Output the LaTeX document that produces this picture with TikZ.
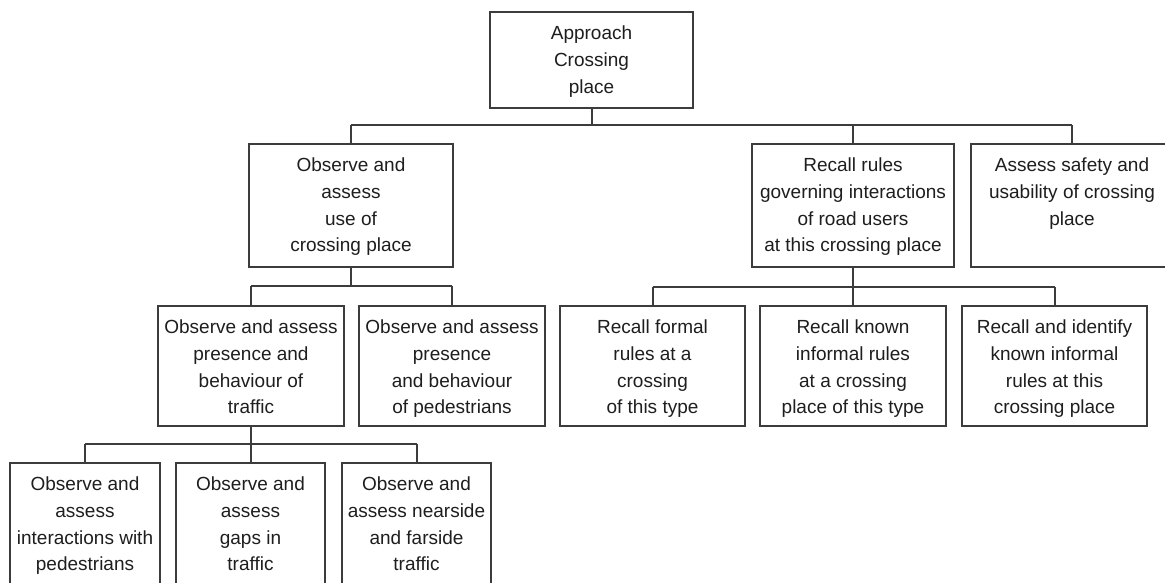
\documentclass[tikz,border=0pt]{standalone}
\usepackage{fontspec}
\setmainfont{Liberation Sans}

% a box of fixed size with its lines set from the top
\newcommand\celltext[3]{%
  \begin{minipage}[t][#2][t]{#1}\centering
  \vspace*{14pt}#3\end{minipage}}

\definecolor{linegray}{HTML}{3C3C3C}
\definecolor{inkgray}{HTML}{1E1E1E}

\tikzset{
  taskbox/.style={draw=linegray, line width=2pt, inner sep=0pt, outer sep=0pt,
    anchor=north west, text=inkgray,
    font=\fontsize{19}{26.7}\selectfont},
  link/.style={draw=linegray, line width=2pt}
}

\begin{document}
\begin{tikzpicture}[x=1pt, y=-1pt]
\useasboundingbox (0,0) rectangle (1165,582);
\clip (0,0) rectangle (1165,582);
\fill[white] (0,0) rectangle (1165,582);

% level 0
\node[taskbox] (top) at (490,12) {\celltext{203pt}{96pt}{Approach\\Crossing\\place}};

% level 1
\node[taskbox] (obs) at (249,144) {\celltext{204pt}{123pt}{Observe and\\assess\\use of\\crossing place}};
\node[taskbox] (rules) at (752,144) {\celltext{202pt}{123pt}{Recall rules\\governing interactions\\of road users\\at this crossing place}};
\node[taskbox] (safety) at (971,144) {\celltext{202pt}{123pt}{Assess safety and\\usability of crossing\\place}};

% level 2
\node[taskbox] (traffic) at (158,306) {\celltext{186pt}{120pt}{Observe and assess\\presence and\\behaviour of\\traffic}};
\node[taskbox] (peds) at (359,306) {\celltext{186pt}{120pt}{Observe and assess\\presence\\and behaviour\\of pedestrians}};
\node[taskbox] (formal) at (560,306) {\celltext{185pt}{120pt}{Recall formal\\rules at a\\crossing\\of this type}};
\node[taskbox] (informal) at (760,306) {\celltext{186pt}{120pt}{Recall known\\informal rules\\at a crossing\\place of this type}};
\node[taskbox] (identify) at (962,306) {\celltext{185pt}{120pt}{Recall and identify\\known informal\\rules at this\\crossing place}};

% level 3
\node[taskbox] (inter) at (10,463) {\celltext{150pt}{140pt}{Observe and\\assess\\interactions with\\pedestrians}};
\node[taskbox] (gaps) at (176,463) {\celltext{149pt}{140pt}{Observe and\\assess\\gaps in\\traffic}};
\node[taskbox] (sides) at (342,463) {\celltext{149pt}{140pt}{Observe and\\assess nearside\\and farside\\traffic}};

% bus heights
\coordinate (bus0) at (0,125);
\coordinate (busA) at (0,286);
\coordinate (busB) at (0,287);
\coordinate (busC) at (0,444);

% connectors
\draw[link] (top.south) -- (top.south |- bus0);
\draw[link] (obs.north |- bus0) -- (safety.north |- bus0);
\foreach \n in {obs,rules,safety} \draw[link] (\n.north |- bus0) -- (\n.north);

\draw[link] (obs.south) -- (obs.south |- busA);
\draw[link] (traffic.north |- busA) -- (peds.north |- busA);
\foreach \n in {traffic,peds} \draw[link] (\n.north |- busA) -- (\n.north);

\draw[link] (rules.south) -- (rules.south |- busB);
\draw[link] (formal.north |- busB) -- (identify.north |- busB);
\foreach \n in {formal,informal,identify} \draw[link] (\n.north |- busB) -- (\n.north);

\draw[link] (traffic.south) -- (traffic.south |- busC);
\draw[link] (inter.north |- busC) -- (sides.north |- busC);
\foreach \n in {inter,gaps,sides} \draw[link] (\n.north |- busC) -- (\n.north);
\end{tikzpicture}
\end{document}
